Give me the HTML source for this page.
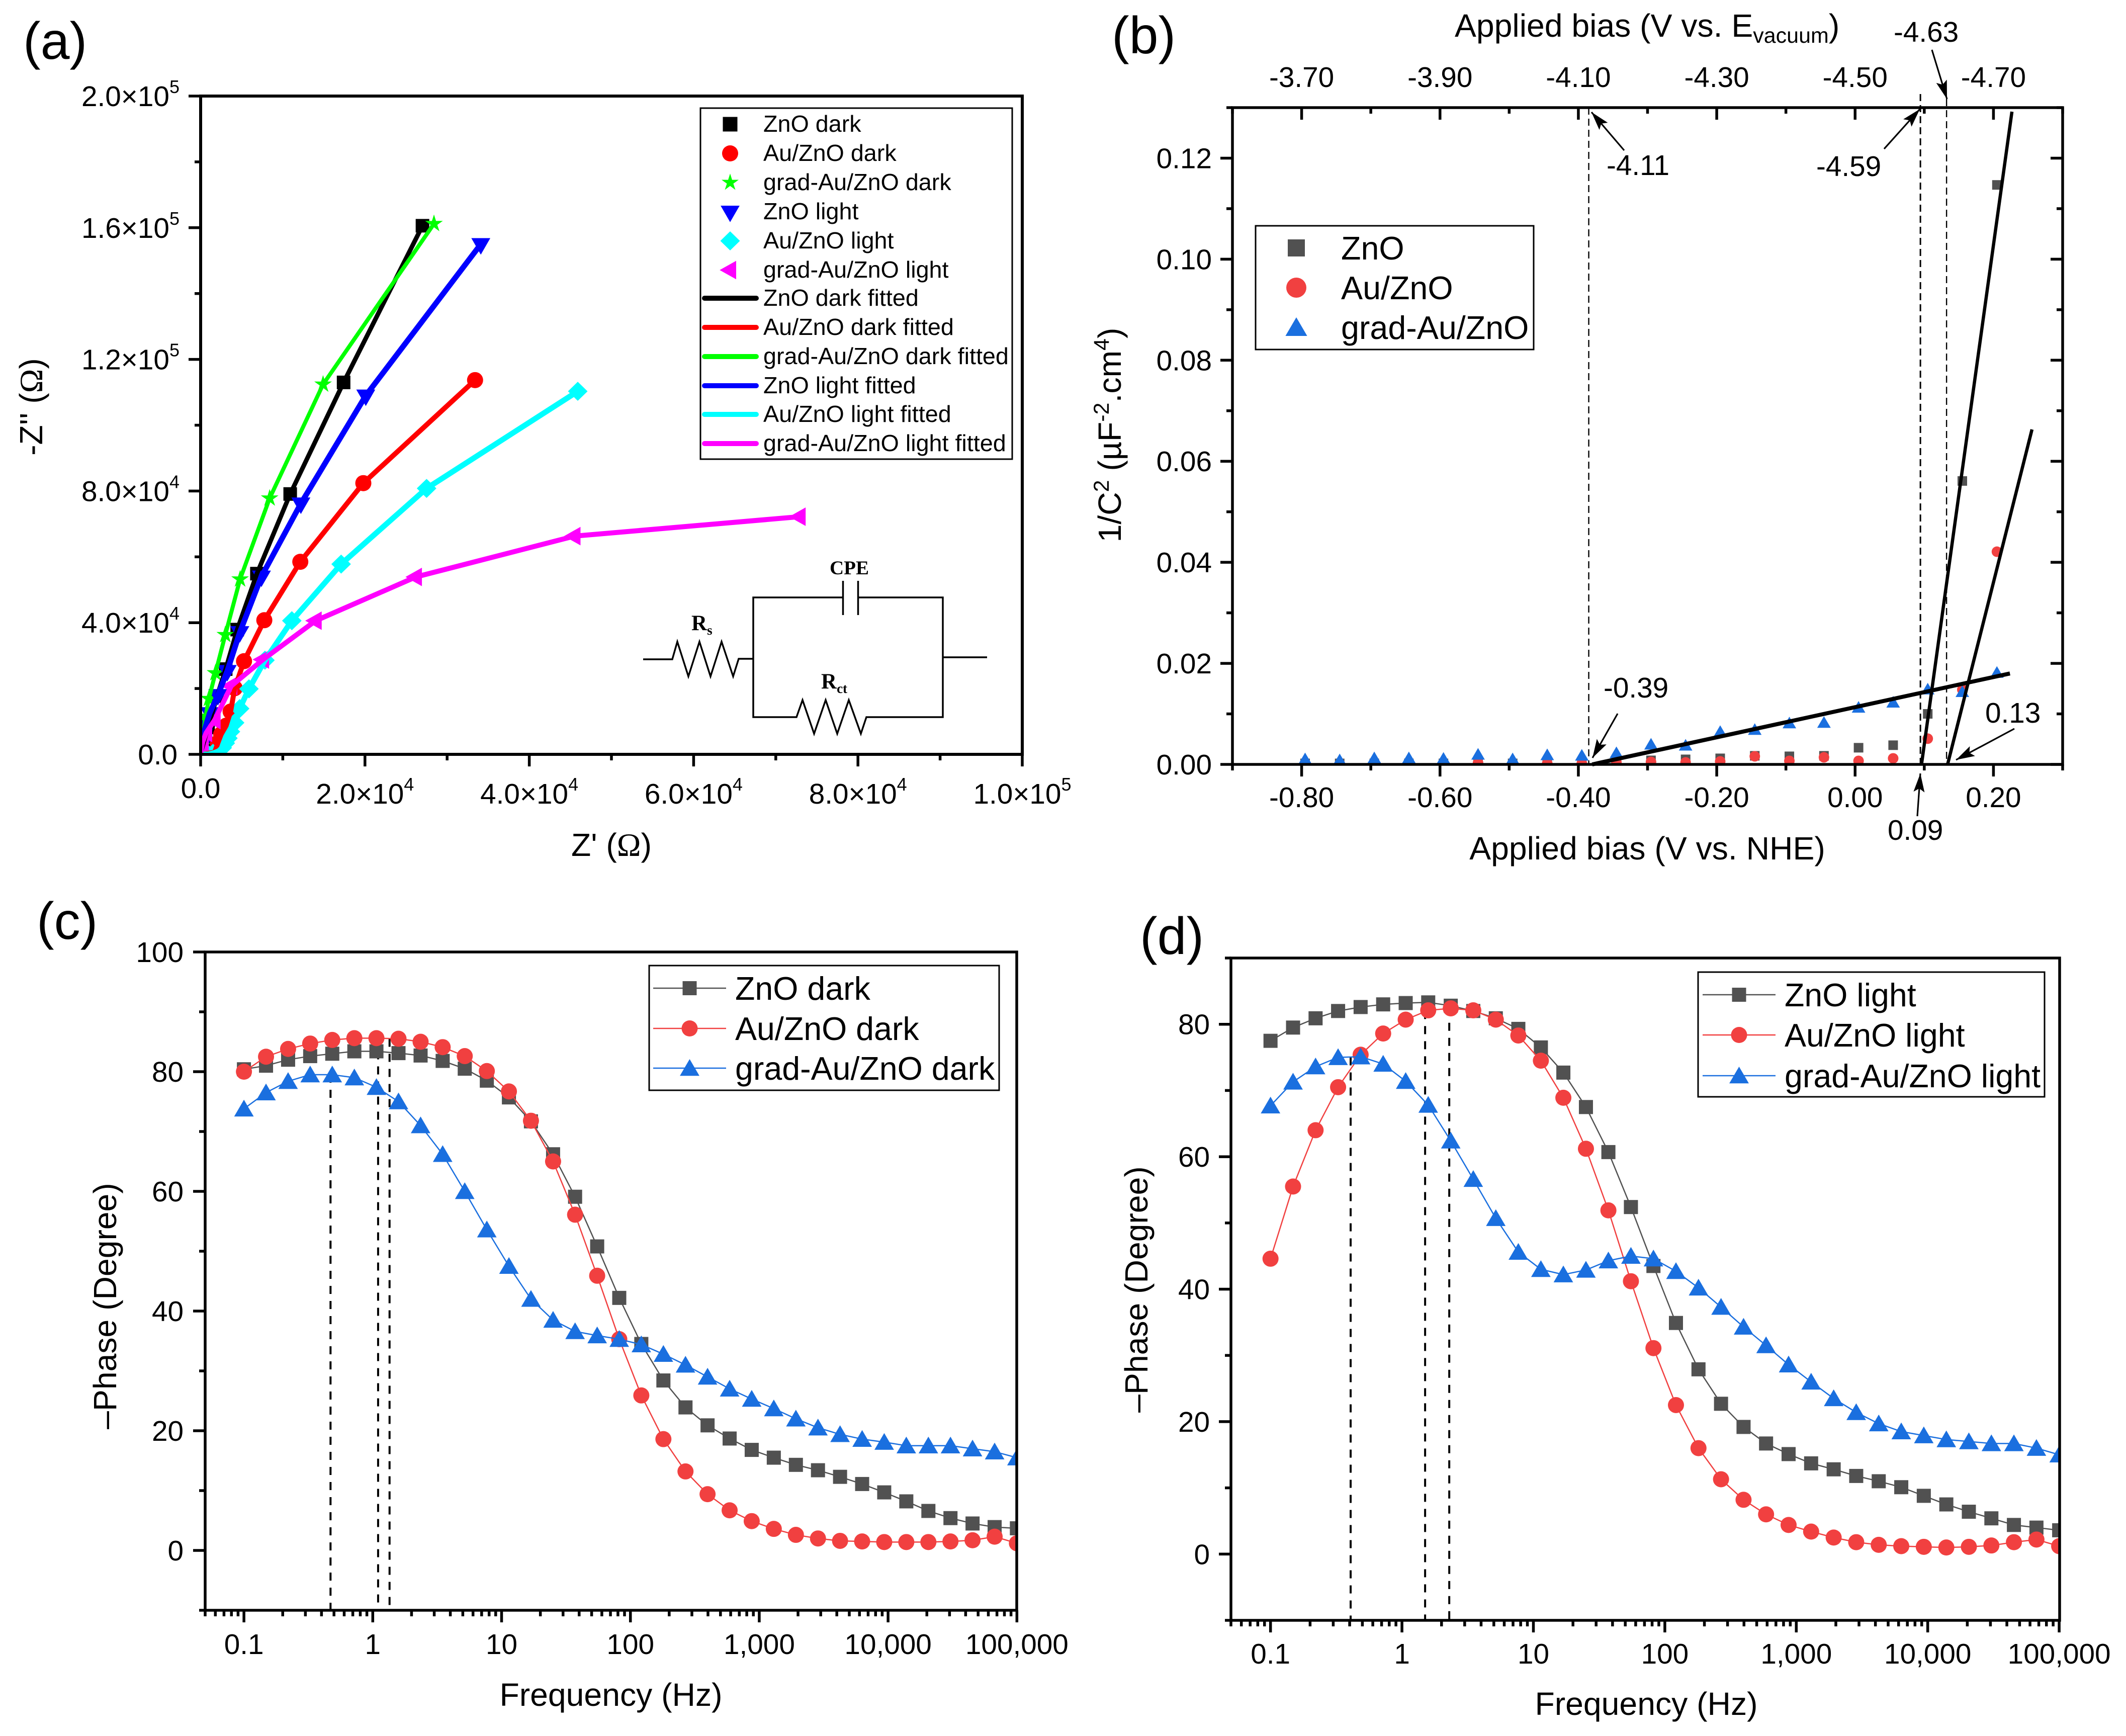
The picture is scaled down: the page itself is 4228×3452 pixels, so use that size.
<!DOCTYPE html>
<html lang="en">
<head>
<meta charset="utf-8">
<title>Impedance, Mott-Schottky and Bode charts</title>
<style>
html,body{margin:0;padding:0;background:#fff;}
svg{display:block;}
text{font-family:"Liberation Sans",sans-serif;fill:#000;}
.serif{font-family:"Liberation Serif",serif;font-weight:bold;}
.ann{font-size:56.7px;}
.ttl{font-size:64.3px;}
.lbl{font-size:104px;}
</style>
</head>
<body>
<svg id="fig" width="4228" height="3452" viewBox="0 0 4228 3452" xmlns="http://www.w3.org/2000/svg">
<defs>
<marker id="arrow" markerUnits="userSpaceOnUse" markerWidth="38" markerHeight="24" refX="37" refY="12" orient="auto"><path d="M0 1L37 12L0 23L7 12z" fill="#000"/></marker>
<clipPath id="clipA"><rect x="399" y="191" width="1634" height="1309"/></clipPath>
<clipPath id="clipB"><rect x="2451" y="214" width="1651" height="1306"/></clipPath>
<clipPath id="clipC"><rect x="408" y="1893" width="1614" height="1309"/></clipPath>
<clipPath id="clipD"><rect x="2448" y="1905" width="1648" height="1317"/></clipPath>
</defs>
<rect width="4228" height="3452" fill="#fff"/>

<text class="lbl" x="46" y="117">(a)</text>
<text class="lbl" x="2211" y="106">(b)</text>
<text class="lbl" x="73" y="1867">(c)</text>
<text class="lbl" x="2267" y="1897">(d)</text>

<text class="ttl" x="1216" y="1702" text-anchor="middle">Z' (<tspan font-family="Liberation Serif">Ω</tspan>)</text>
<text class="ttl" transform="translate(84,809) rotate(-90)" text-anchor="middle">-Z'' (<tspan font-family="Liberation Serif">Ω</tspan>)</text>

<text class="ttl" x="3276" y="1709" text-anchor="middle">Applied bias (V vs. NHE)</text>
<text class="ttl" x="2893" y="73">Applied bias (V vs. E<tspan font-size="43" dy="12">vacuum</tspan><tspan dy="-12">)</tspan></text>
<text class="ttl" transform="translate(2229,865) rotate(-90)" text-anchor="middle">1/C<tspan font-size="43" dy="-24">2</tspan><tspan dy="24"> (µF</tspan><tspan font-size="43" dy="-24">-2</tspan><tspan dy="24">.cm</tspan><tspan font-size="43" dy="-24">4</tspan><tspan dy="24">)</tspan></text>

<text class="ttl" x="1215" y="3392" text-anchor="middle">Frequency (Hz)</text>
<text class="ttl" transform="translate(231,2597) rotate(-90)" text-anchor="middle">–Phase (Degree)</text>
<text class="ttl" x="3274" y="3410" text-anchor="middle">Frequency (Hz)</text>
<text class="ttl" transform="translate(2282,2564) rotate(-90)" text-anchor="middle">–Phase (Degree)</text>

<g id="panelA"></g>
<g id="panelB"></g>
<g id="panelC"></g>
<g id="panelD"></g>

<g id="circuit" fill="none" stroke="#000" stroke-width="3.5">
<polyline points="1279,1311 1337,1311 1347,1276 1369,1345 1391,1276 1413,1345 1435,1276 1458,1345 1469,1310 1498,1310"/>
<polyline points="1676,1188 1498,1188 1498,1426 1584,1426 1596,1392 1619,1459 1642,1392 1665,1459 1688,1392 1712,1459 1723,1426 1875,1426 1875,1188 1707,1188"/>
<line x1="1676.5" y1="1155" x2="1676.5" y2="1223"/>
<line x1="1706.5" y1="1155" x2="1706.5" y2="1223"/>
<line x1="1875" y1="1307" x2="1963" y2="1307"/>
</g>
<text class="serif" x="1689" y="1142" font-size="39" text-anchor="middle">CPE</text>
<text class="serif" x="1375" y="1253" font-size="43">R<tspan font-size="27" dy="9">s</tspan></text>
<text class="serif" x="1633" y="1369" font-size="43">R<tspan font-size="27" dy="9">ct</tspan></text>

<g id="annotB">
<g stroke="#000" stroke-width="3.2" fill="none">
<line x1="3230" y1="299" x2="3165" y2="223" marker-end="url(#arrow)"/>
<line x1="3747" y1="296" x2="3818" y2="217" marker-end="url(#arrow)"/>
<line x1="3842" y1="99" x2="3872" y2="197" marker-end="url(#arrow)"/>
<line x1="3217" y1="1419" x2="3167" y2="1507" marker-end="url(#arrow)"/>
<line x1="3813" y1="1623" x2="3819" y2="1538" marker-end="url(#arrow)"/>
<line x1="4006" y1="1449" x2="3890" y2="1511" marker-end="url(#arrow)"/>
</g>
<text class="ann" x="3195" y="348">-4.11</text>
<text class="ann" x="3612" y="350">-4.59</text>
<text class="ann" x="3766" y="83">-4.63</text>
<text class="ann" x="3189" y="1387">-0.39</text>
<text class="ann" x="3754" y="1670">0.09</text>
<text class="ann" x="3948" y="1437">0.13</text>
</g>
</svg>

<script>
/* ---------- Panel (a): Nyquist ---------- */
const aXTicks = [0, 20000, 40000, 60000, 80000, 100000];
const aXTickLabels = ['0.0', '2.0×10|4', '4.0×10|4', '6.0×10|4', '8.0×10|4', '1.0×10|5'];
const aXMinor = [10000, 30000, 50000, 70000, 90000];
const aYTicks = [0, 40000, 80000, 120000, 160000, 200000];
const aYTickLabels = ['0.0', '4.0×10|4', '8.0×10|4', '1.2×10|5', '1.6×10|5', '2.0×10|5'];
const aYMinor = [20000, 60000, 100000, 140000, 180000];

const znoDarkX = [27000, 17400, 10900, 6850, 4450, 3050, 2000, 1350, 900, 600, 400, 250, 150, 80, 40];
const znoDarkY = [160600, 113000, 79100, 54900, 37900, 25900, 17700, 12000, 8200, 5600, 3800, 2500, 1600, 1000, 500];
const auDarkX = [33400, 19800, 12130, 7750, 5280, 4150, 3650, 3100, 2500, 2100, 1700];
const auDarkY = [113700, 82400, 58500, 40750, 28300, 20100, 13000, 8700, 6100, 3500, 600];
const gradDarkX = [28400, 14900, 8400, 4800, 3000, 1800, 1000, 600, 400, 250, 150, 100, 60];
const gradDarkY = [161200, 112400, 77800, 53200, 36300, 24700, 16900, 11500, 8000, 5500, 3700, 2500, 1600];
const znoLightX = [34100, 20100, 12200, 7400, 4770, 3240, 2100, 1100, 600, 350, 200, 100];
const znoLightY = [155000, 109000, 76200, 54000, 37100, 25300, 18000, 12500, 8500, 6000, 4000, 2600];
const auLightX = [45900, 27500, 17100, 11100, 7830, 5880, 4750, 4140, 3630, 3320, 3000, 2630, 2200, 1500, 900];
const auLightY = [110300, 80800, 57800, 40600, 28600, 19900, 13900, 9600, 6900, 4900, 3400, 2000, 1000, 300, 0];
const gradLightX = [72900, 45500, 26200, 14000, 7600, 3730, 1700, 670, 260, 80];
const gradLightY = [72200, 66300, 53900, 40600, 28800, 20800, 10400, 6500, 3800, 1500];

/* ---------- Panel (b): Mott-Schottky ---------- */
const bBias = [-0.795, -0.745, -0.695, -0.645, -0.595, -0.545, -0.495, -0.445, -0.395, -0.345, -0.295, -0.245, -0.195, -0.145, -0.095, -0.045, 0.005, 0.055, 0.105, 0.155, 0.205];
const bZno = [0.0002, 0.0002, 0.0002, 0.0002, 0.0002, 0.0002, 0.0002, 0.0002, 0.0002, 0.0004, 0.0008, 0.001, 0.0012, 0.0017, 0.0016, 0.0017, 0.0033, 0.0038, 0.01, 0.0561, 0.1147];
const bAu = [0.0001, 0.0001, 0.0001, 0.0001, 0.0001, 0.0003, 0.0001, 0.0002, 0.0002, 0.0004, 0.0005, 0.0004, 0.0006, 0.0016, 0.0007, 0.0014, 0.0007, 0.0012, 0.0051, 0.0148, 0.0421];
const bGrad = [0.0011, 0.0009, 0.0013, 0.0013, 0.0012, 0.002, 0.0011, 0.0019, 0.0018, 0.0023, 0.004, 0.0038, 0.0065, 0.0069, 0.0082, 0.0083, 0.0113, 0.0123, 0.0149, 0.0144, 0.0182];
const bFitZnoX = [0.096, 0.2267];
const bFitZnoY = [0, 0.1292];
const bFitAuX = [0.1337, 0.2557];
const bFitAuY = [0, 0.0663];
const bFitGradX = [-0.38, 0.2238];
const bFitGradY = [0, 0.018];
const bGuideX = [-0.385, 0.0944, 0.1322];
const bXTicks = [-0.8, -0.6, -0.4, -0.2, 0, 0.2];
const bXTickLabels = ['-0.80', '-0.60', '-0.40', '-0.20', '0.00', '0.20'];
const bTopTickLabels = ['-3.70', '-3.90', '-4.10', '-4.30', '-4.50', '-4.70'];
const bXMinor = [-0.9, -0.7, -0.5, -0.3, -0.1, 0.1, 0.3];
const bYTicks = [0, 0.02, 0.04, 0.06, 0.08, 0.10, 0.12];
const bYTickLabels = ['0.00', '0.02', '0.04', '0.06', '0.08', '0.10', '0.12'];
const bYMinor = [0.01, 0.03, 0.05, 0.07, 0.09, 0.11, 0.13];

/* ---------- Panels (c) and (d): Bode phase ---------- */
const freqHz = [0.1, 0.1484, 0.2202, 0.3267, 0.4848, 0.7194, 1.0675, 1.584, 2.351, 3.488, 5.176, 7.68, 11.4, 16.9, 25.1, 37.2, 55.2, 81.9, 121.5, 180.3, 267.6, 397, 589, 874, 1297, 1925, 2857, 4239, 6290, 9334, 13851, 20554, 30500, 45260, 67160, 100000];
const cZno = [80.4, 81, 82, 82.6, 83, 83.4, 83.4, 83.1, 82.7, 81.8, 80.5, 78.5, 75.7, 71.7, 66.2, 59.1, 50.8, 42.2, 34.5, 28.4, 23.9, 20.9, 18.7, 16.8, 15.5, 14.3, 13.4, 12.3, 11.1, 9.7, 8.2, 6.6, 5.4, 4.5, 3.9, 3.7];
const cAu = [80, 82.5, 83.8, 84.7, 85.3, 85.6, 85.6, 85.5, 85, 84.1, 82.6, 80.1, 76.7, 71.8, 65, 56.1, 45.9, 35.3, 25.9, 18.6, 13.2, 9.4, 6.7, 4.9, 3.6, 2.6, 2, 1.6, 1.5, 1.4, 1.4, 1.4, 1.5, 1.7, 2.3, 1.2];
const cGrad = [73.8, 76.5, 78.4, 79.5, 79.5, 79, 77.4, 75, 71, 66.2, 60, 53.6, 47.5, 42, 38.5, 36.6, 35.9, 35.3, 34.4, 32.8, 31, 29, 27, 25.3, 23.7, 22, 20.5, 19.4, 18.6, 18.1, 17.5, 17.5, 17.5, 17, 16.5, 15.5];
const dZno = [77.5, 79.5, 80.9, 82, 82.6, 83, 83.2, 83.3, 82.8, 82, 80.9, 79.3, 76.5, 72.7, 67.5, 60.7, 52.4, 43.5, 34.9, 27.9, 22.7, 19.2, 16.7, 15.1, 13.7, 12.8, 11.8, 11, 10.1, 8.8, 7.5, 6.4, 5.4, 4.4, 4, 3.6];
const dAu = [44.6, 55.5, 64, 70.5, 75.4, 78.6, 80.7, 82.1, 82.4, 82.1, 80.7, 78.3, 74.5, 68.9, 61.2, 51.9, 41.2, 31.1, 22.5, 16, 11.3, 8.2, 6, 4.4, 3.4, 2.5, 1.8, 1.4, 1.2, 1.1, 1, 1.1, 1.3, 1.8, 2.2, 1.2];
const dGrad = [67.7, 71.3, 73.6, 75, 75.1, 74, 71.4, 67.8, 62.4, 56.6, 50.7, 45.6, 43, 42.2, 42.9, 44.3, 45, 44.6, 42.7, 40.2, 37.3, 34.3, 31.5, 28.6, 26, 23.5, 21.4, 19.7, 18.5, 17.9, 17.3, 17, 16.7, 16.7, 16, 15];
const cGuideFreq = [0.47, 1.1, 1.35];
const cGuideTop = [79.5, 83.4, 85.5];
const dGuideFreq = [0.407, 1.5, 2.29];
const dGuideTop = [75, 82, 82.5];
const logXTicks = [0.1, 1, 10, 100, 1000, 10000, 100000];
const logXTickLabels = ['0.1', '1', '10', '100', '1,000', '10,000', '100,000'];
const cYTicks = [0, 20, 40, 60, 80, 100];
const cYTickLabels = ['0', '20', '40', '60', '80', '100'];
const cYMinor = [-10, 10, 30, 50, 70, 90];
const dYTicks = [0, 20, 40, 60, 80];
const dYTickLabels = ['0', '20', '40', '60', '80'];
const dYMinor = [-10, 10, 30, 50, 70, 90];
const legendC = ['ZnO dark', 'Au/ZnO dark', 'grad-Au/ZnO dark'];
const legendD = ['ZnO light', 'Au/ZnO light', 'grad-Au/ZnO light'];
const legendB = ['ZnO', 'Au/ZnO', 'grad-Au/ZnO'];
const legendA = ['ZnO dark', 'Au/ZnO dark', 'grad-Au/ZnO dark', 'ZnO light', 'Au/ZnO light', 'grad-Au/ZnO light', 'ZnO dark fitted', 'Au/ZnO dark fitted', 'grad-Au/ZnO dark fitted', 'ZnO light fitted', 'Au/ZnO light fitted', 'grad-Au/ZnO light fitted'];

/* ---------- axis functions ---------- */
const axA = {x: v => 399 + v / 100000 * 1634, y: v => 1500 - v / 200000 * 1309};
const axB = {x: v => 2451 + (v + 0.9) / 1.2 * 1651, y: v => 1520 - v / 0.13 * 1306};
const axC = {x: v => 408 + (Math.log10(v) - Math.log10(0.05)) * 256.2, y: v => 3202 - (v + 10) / 110 * 1309};
const axD = {x: v => 2448 + (Math.log10(v) - Math.log10(0.05)) * 261.4, y: v => 3222 - (v + 10) / 100 * 1317};

/* ---------- helpers ---------- */
const NS = 'http://www.w3.org/2000/svg';
function mk(parent, tag, attrs, txt) {
  const e = document.createElementNS(NS, tag);
  for (const k in attrs) e.setAttribute(k, attrs[k]);
  if (txt !== undefined) e.textContent = txt;
  parent.appendChild(e);
  return e;
}
function poly(cx, cy, pts) { return pts.map(p => (cx + p[0]) + ',' + (cy + p[1])).join(' '); }
function marker(parent, shape, cx, cy, s, color) {
  if (shape === 'square') return mk(parent, 'rect', {x: cx - s / 2, y: cy - s / 2, width: s, height: s, fill: color});
  if (shape === 'circle') return mk(parent, 'circle', {cx: cx, cy: cy, r: s / 2, fill: color});
  let pts = [];
  const h = s / 2;
  if (shape === 'up') pts = [[0, -h], [h * 1.08, h * 0.85], [-h * 1.08, h * 0.85]];
  if (shape === 'down') pts = [[-h * 1.18, -h * 0.75], [h * 1.18, -h * 0.75], [0, h * 1.3]];
  if (shape === 'left') pts = [[-h * 1.3, 0], [h * 0.75, -h * 1.15], [h * 0.75, h * 1.15]];
  if (shape === 'diamond') pts = [[0, -h * 1.15], [h * 1.18, 0], [0, h * 1.15], [-h * 1.18, 0]];
  if (shape === 'star') {
    for (let i = 0; i < 10; i++) {
      const r = i % 2 ? h * 0.42 : h * 1.12;
      const a = -Math.PI / 2 + i * Math.PI / 5;
      pts.push([r * Math.cos(a), r * Math.sin(a)]);
    }
  }
  return mk(parent, 'polygon', {points: poly(cx, cy, pts), fill: color});
}
function frame(g, l, t, r, b, sw) {
  const e = mk(g, 'rect', {x: l, y: t, width: r - l, height: b - t, fill: 'none', stroke: '#000', 'stroke-width': sw});
  
  
}
function tick(g, x1, y1, x2, y2) {
  const e = mk(g, 'line', {x1: x1, y1: y1, x2: x2, y2: y2, stroke: '#000', 'stroke-width': 5.5});
  
  
}
function label(g, x, y, anchor, str, size) {
  const parts = str.split('|');
  const e = mk(g, 'text', {x: x, y: y, 'text-anchor': anchor, 'font-size': size || 56.7}, parts[0]);
  if (parts[1]) mk(e, 'tspan', {'font-size': 36, dy: -26}, parts[1]);
  
  
  return e;
}
function polyline(g, xs, ys, ax, color, sw, extra) {
  const attrs = {points: xs.map((v, i) => ax.x(v) + ',' + ax.y(ys[i])).join(' '), fill: 'none', stroke: color, 'stroke-width': sw, 'stroke-linejoin': 'round'};
  Object.assign(attrs, extra || {});
  return mk(g, 'polyline', attrs);
}
function legendBox(g, l, t, r, b) {
  const e = mk(g, 'rect', {x: l, y: t, width: r - l, height: b - t, fill: '#fff', stroke: '#000', 'stroke-width': 3});
  
  
}
function legendText(g, x, y, str, size) {
  const e = mk(g, 'text', {x: x, y: y, 'font-size': size}, str);
  
  
}

/* ---------- draw panel (a) ---------- */
(function () {
  const g = document.getElementById('panelA');
  const plot = mk(g, 'g', {'clip-path': 'url(#clipA)'});
  
  
  const rows = [
    {n: 'zno-dark', x: znoDarkX, y: znoDarkY, s: 'square', c: '#000000', m: 27, w: 9, lm: 29},
    {n: 'au-dark', x: auDarkX, y: auDarkY, s: 'circle', c: '#ff0000', m: 32, w: 10, lm: 32},
    {n: 'grad-dark', x: gradDarkX, y: gradDarkY, s: 'star', c: '#00ff00', m: 33, w: 8, lm: 32},
    {n: 'zno-light', x: znoLightX, y: znoLightY, s: 'down', c: '#0000ff', m: 32, w: 11, lm: 32},
    {n: 'au-light', x: auLightX, y: auLightY, s: 'diamond', c: '#00ffff', m: 33, w: 11, lm: 33},
    {n: 'grad-light', x: gradLightX, y: gradLightY, s: 'left', c: '#ff00ff', m: 32, w: 10, lm: 32}
  ];
  rows.forEach(r => {
    r.x.forEach((v, i) => {
      const e = marker(plot, r.s, axA.x(v), axA.y(r.y[i]), r.m, r.c);
      
      
    });
  });
  rows.forEach(r => {
    const e = polyline(plot, r.x.concat([0]), r.y.concat([0]), axA, r.c, r.w);
    
    
  });
  frame(g, 399, 191, 2033, 1500, 6);
  aXTicks.forEach((v, i) => {
    tick(g, axA.x(v), 1500, axA.x(v), 1524);
    label(g, axA.x(v), i === 0 ? 1587 : 1598, 'middle', aXTickLabels[i]);
  });
  aXMinor.forEach(v => tick(g, axA.x(v), 1500, axA.x(v), 1512));
  aYTicks.forEach((v, i) => {
    tick(g, 375, axA.y(v), 399, axA.y(v));
    label(g, i === 0 ? 353 : 357, axA.y(v) + 20, 'end', aYTickLabels[i]);
  });
  aYMinor.forEach(v => tick(g, 387, axA.y(v), 399, axA.y(v)));
  legendBox(g, 1393, 215, 2013, 913);
  const rowY = [247, 305, 363, 421, 479, 537, 593, 651, 709, 767, 824, 882];
  legendA.forEach((t, i) => {
    const k = i % 6;
    if (i < 6) {
      const e = marker(g, rows[k].s, 1452, rowY[i], rows[k].lm, rows[k].c);
      
      
    } else {
      const e = mk(g, 'line', {x1: 1401, y1: rowY[i], x2: 1504, y2: rowY[i], stroke: rows[k].c, 'stroke-width': 10, 'stroke-linecap': 'round'});
      
      
    }
    legendText(g, 1518, rowY[i] + 15, t, 46.7);
  });
})();

/* ---------- draw panel (b) ---------- */
(function () {
  const g = document.getElementById('panelB');
  bGuideX.forEach(v => {
    const top = v > 0.12 ? 197 : (v > 0 ? 187 : 214);
    const e = mk(g, 'line', {x1: axB.x(v), y1: top, x2: axB.x(v), y2: 1520, stroke: '#000', 'stroke-width': v > 0 && v < 0.12 ? 3 : 2.4, 'stroke-dasharray': '14 8'});
    
    
  });
  const plot = mk(g, 'g', {'clip-path': 'url(#clipB)'});
  
  
  bBias.forEach((v, i) => {
    const e = marker(plot, 'square', axB.x(v), axB.y(bZno[i]), 19, '#515151');
    
    
  });
  bBias.forEach((v, i) => {
    const e = marker(plot, 'circle', axB.x(v), axB.y(bAu[i]), 21, '#f14040');
    
    
  });
  bBias.forEach((v, i) => {
    const e = marker(plot, 'up', axB.x(v), axB.y(bGrad[i]), 25, '#1a6fdf');
    
    
  });
  const f1 = polyline(g, bFitGradX, bFitGradY, axB, '#000', 8);
  
  
  const f2 = polyline(g, bFitZnoX, bFitZnoY, axB, '#000', 6.5);
  
  
  const f3 = polyline(g, bFitAuX, bFitAuY, axB, '#000', 6.5);
  
  
  frame(g, 2451, 214, 4102, 1520, 5.5);
  bXTicks.forEach((v, i) => {
    tick(g, axB.x(v), 1520, axB.x(v), 1544);
    tick(g, axB.x(v), 214, axB.x(v), 238);
    label(g, axB.x(v), 1605, 'middle', bXTickLabels[i]);
    label(g, axB.x(v), 173, 'middle', bTopTickLabels[i]);
  });
  bXMinor.forEach(v => {
    tick(g, axB.x(v), 1520, axB.x(v), 1532);
    tick(g, axB.x(v), 214, axB.x(v), 226);
  });
  bYTicks.forEach((v, i) => {
    tick(g, 2427, axB.y(v), 2451, axB.y(v));
    tick(g, 4078, axB.y(v), 4102, axB.y(v));
    label(g, 2410, axB.y(v) + 20, 'end', bYTickLabels[i]);
  });
  bYMinor.forEach(v => {
    tick(g, 2439, axB.y(v), 2451, axB.y(v));
    tick(g, 4090, axB.y(v), 4102, axB.y(v));
  });
  legendBox(g, 2497, 449, 3050, 695);
  const rowY = [493, 572, 651];
  const shapes = ['square', 'circle', 'up'];
  const sizes = [34, 40, 40];
  const cols = ['#515151', '#f14040', '#1a6fdf'];
  legendB.forEach((t, i) => {
    const e = marker(g, shapes[i], 2578, rowY[i], sizes[i], cols[i]);
    
    
    legendText(g, 2667, rowY[i] + 23, t, 64.6);
  });
})();

/* ---------- draw panels (c) and (d) ---------- */
function bode(id, ax, clip, box, series, guideF, guideT, yTicks, yLabels, yMinor, xBase, yLabelRight, legendNames, lg) {
  const g = document.getElementById(id);
  guideF.forEach((f, i) => {
    const e = mk(g, 'line', {x1: ax.x(f), y1: ax.y(guideT[i]), x2: ax.x(f), y2: box.b, stroke: '#000', 'stroke-width': 4, 'stroke-dasharray': '16 14'});
    
    
  });
  const plot = mk(g, 'g', {'clip-path': clip});
  
  
  const shapes = ['square', 'circle', 'up'];
  const sizes = [28, 32, 36];
  const cols = ['#515151', '#f14040', '#1a6fdf'];
  series.forEach((s, k) => {
    const ln = polyline(plot, freqHz, s, ax, cols[k], 2.5);
    
    
    freqHz.forEach((f, i) => {
      const e = marker(plot, shapes[k], ax.x(f), ax.y(s[i]), sizes[k], cols[k]);
      
      
    });
  });
  frame(g, box.l, box.t, box.r, box.b, 5.5);
  logXTicks.forEach((v, i) => {
    tick(g, ax.x(v), box.b, ax.x(v), box.b + 24);
    label(g, ax.x(v), xBase, 'middle', logXTickLabels[i]);
  });
  for (let d = 0.01; d < 100000; d *= 10) {
    for (let m = 2; m <= 9; m++) {
      const v = d * m;
      if (v >= 0.05 && v < 100000) tick(g, ax.x(v), box.b, ax.x(v), box.b + 12);
    }
  }
  yTicks.forEach((v, i) => {
    tick(g, box.l - 24, ax.y(v), box.l, ax.y(v));
    label(g, yLabelRight, ax.y(v) + 20, 'end', yLabels[i]);
  });
  yMinor.forEach(v => tick(g, box.l - 12, ax.y(v), box.l, ax.y(v)));
  legendBox(g, lg.l, lg.t, lg.r, lg.b);
  legendNames.forEach((t, i) => {
    const ln = mk(g, 'line', {x1: lg.x1, y1: lg.rows[i], x2: lg.x2, y2: lg.rows[i], stroke: cols[i], 'stroke-width': 2.5});
    
    
    const e = marker(g, shapes[i], (lg.x1 + lg.x2) / 2, lg.rows[i], sizes[i], cols[i]);
    
    
    legendText(g, lg.tx, lg.rows[i] + 23, t, 64.5);
  });
}
bode('panelC', axC, 'url(#clipC)', {l: 408, t: 1893, r: 2022, b: 3202}, [cZno, cAu, cGrad], cGuideFreq, cGuideTop, cYTicks, cYTickLabels, cYMinor, 3289, 365, legendC,
  {l: 1291, t: 1920, r: 1987, b: 2168, x1: 1299, x2: 1444, tx: 1462, rows: [1965, 2045, 2124]});
bode('panelD', axD, 'url(#clipD)', {l: 2448, t: 1905, r: 4096, b: 3222}, [dZno, dAu, dGrad], dGuideFreq, dGuideTop, dYTicks, dYTickLabels, dYMinor, 3308, 2406, legendD,
  {l: 3377, t: 1933, r: 4066, b: 2181, x1: 3386, x2: 3531, tx: 3549, rows: [1978, 2058, 2139]});
</script>
</body>
</html>
